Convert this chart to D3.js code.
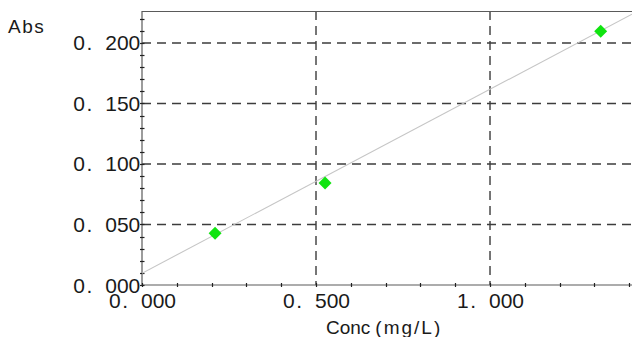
<!DOCTYPE html>
<html>
<head>
<meta charset="utf-8">
<script src="https://cdn.jsdelivr.net/npm/d3@7"></script>
<style>
  html, body { margin: 0; padding: 0; background: #fff; }
  svg { display: block; }
</style>
</head>
<body>
<svg id="chart" width="632" height="337"></svg>
<script>
// ---- data ----
const concValues = [0.21, 0.526, 1.318];       // Conc (mg/L)
const absValues  = [0.0427, 0.0843, 0.2097];   // Abs
const fitSlope = 0.152;
const fitIntercept = 0.0097;
const xTickValues = [0, 0.5, 1.0];
const xTickLabels = ["0.000", "0.500", "1.000"];
const yTickValues = [0, 0.05, 0.10, 0.15, 0.20];
const yTickLabels = ["0.000", "0.050", "0.100", "0.150", "0.200"];
const xTitle = "Conc(mg/L)";
const yTitle = "Abs";

// ---- layout ----
const plotL = 142, plotR = 632, plotT = 11, plotB = 285;
const svg = d3.select("#chart");

const x = d3.scaleLinear().domain([0, 1.408]).range([plotL, plotR]);
const y = d3.scaleLinear().domain([0, 0.2264]).range([plotB, plotT]);

svg.append("defs").append("clipPath").attr("id", "plotclip")
  .append("rect").attr("x", plotL).attr("y", plotT).attr("width", plotR - plotL).attr("height", plotB - plotT);

const gridColor = "#3c3c3c";
// grid lines
svg.append("g").selectAll("line").data(yTickValues.filter(v => v > 0)).join("line")
  .attr("x1", plotL).attr("x2", plotR)
  .attr("y1", d => y(d)).attr("y2", d => y(d))
  .attr("stroke", gridColor).attr("stroke-width", 1.4).attr("stroke-dasharray", "9,6");
svg.append("g").selectAll("line").data(xTickValues.filter(v => v > 0)).join("line")
  .attr("y1", plotT).attr("y2", plotB)
  .attr("x1", d => x(d)).attr("x2", d => x(d))
  .attr("stroke", gridColor).attr("stroke-width", 1.4).attr("stroke-dasharray", "9,6");

// frame: top border, left axis, bottom axis
const axisColor = "#5a5a5a";
svg.append("line").attr("x1", plotL).attr("x2", plotR).attr("y1", plotT + 0.5).attr("y2", plotT + 0.5)
  .attr("stroke", axisColor).attr("stroke-width", 1.2);
svg.append("line").attr("x1", plotL).attr("x2", plotL).attr("y1", plotT).attr("y2", plotB)
  .attr("stroke", axisColor).attr("stroke-width", 1.2);
svg.append("line").attr("x1", plotL).attr("x2", plotR).attr("y1", plotB).attr("y2", plotB)
  .attr("stroke", axisColor).attr("stroke-width", 1.2);

// minor ticks
const yMinor = d3.range(0, 0.2264, 0.01);
svg.append("g").selectAll("line").data(yMinor).join("line")
  .attr("x1", plotL - 2).attr("x2", plotL + 2.5)
  .attr("y1", d => Math.round(y(d)) + 0.5).attr("y2", d => Math.round(y(d)) + 0.5)
  .attr("stroke", "#222").attr("stroke-width", 1.2);
const xMinor = d3.range(0, 1.408, 0.1);
svg.append("g").selectAll("line").data(xMinor).join("line")
  .attr("y1", plotB - 2).attr("y2", plotB + 2)
  .attr("x1", d => Math.round(x(d)) + 0.5).attr("x2", d => Math.round(x(d)) + 0.5)
  .attr("stroke", "#222").attr("stroke-width", 1.2);

// regression line
const lineData = x.domain().map(v => [v, fitIntercept + fitSlope * v]);
svg.append("path").datum(lineData)
  .attr("clip-path", "url(#plotclip)")
  .attr("d", d3.line().x(d => x(d[0])).y(d => y(d[1])))
  .attr("fill", "none").attr("stroke", "#c6c6c6").attr("stroke-width", 1.1);

// points
const pts = concValues.map((c, i) => [c, absValues[i]]);
svg.append("g").selectAll("path").data(pts).join("path")
  .attr("d", d3.symbol(d3.symbolSquare, 84)())
  .attr("transform", d => `translate(${x(d[0])},${y(d[1])}) rotate(45)`)
  .attr("fill", "#10e410");

// tick labels with wide spacing after the decimal point
const fontFam = "'Liberation Sans', Arial, sans-serif";
function tickLabel(sel, s) {
  const parts = s.split(".");
  sel.append("tspan").text(parts[0]);
  sel.append("tspan").attr("dx", 1.5).text(".");
  sel.append("tspan").attr("dx", 13).text(parts[1]);
}
yTickValues.forEach((v, i) => {
  const t = svg.append("text")
    .attr("x", plotL - 1.7).attr("y", y(v) + 7.5)
    .attr("text-anchor", "end")
    .attr("font-family", fontFam).attr("font-size", 21)
    .attr("fill", "#1a1a1a");
  tickLabel(t, yTickLabels[i]);
});
xTickValues.forEach((v, i) => {
  const t = svg.append("text")
    .attr("x", x(v) + 0.5).attr("y", plotB + 22.5)
    .attr("text-anchor", "middle")
    .attr("font-family", fontFam).attr("font-size", 21)
    .attr("fill", "#1a1a1a");
  tickLabel(t, xTickLabels[i]);
});

// axis titles
svg.append("text").attr("x", 8).attr("y", 33)
  .attr("font-family", fontFam).attr("font-size", 19)
  .attr("letter-spacing", 1.5).attr("fill", "#1a1a1a")
  .text(yTitle);

const xt = svg.append("text").attr("x", 326).attr("y", 334)
  .attr("font-family", fontFam).attr("font-size", 19).attr("fill", "#1a1a1a");
const ti = xTitle.indexOf("(");
xt.append("tspan").text(xTitle.slice(0, ti));
xt.append("tspan").attr("dx", 5).attr("letter-spacing", 2).text(xTitle.slice(ti));
</script>
</body>
</html>
